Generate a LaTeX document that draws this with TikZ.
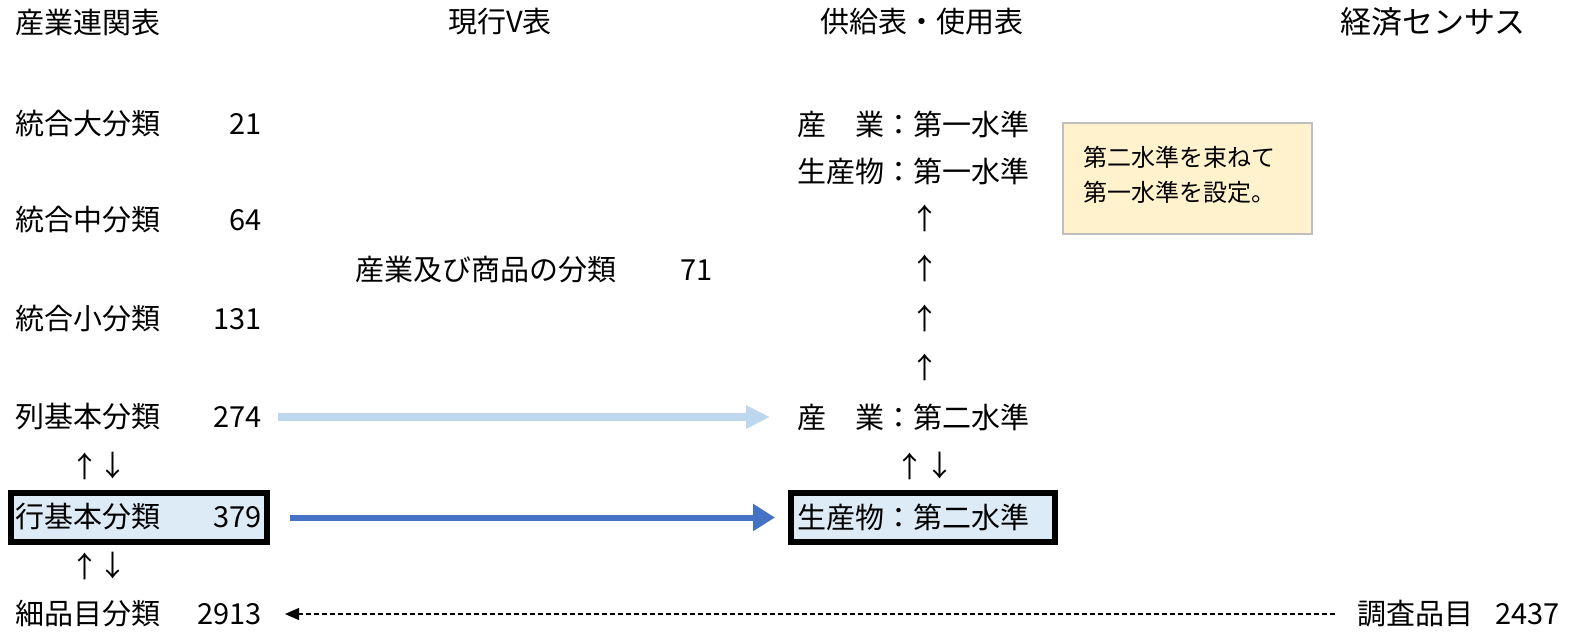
\documentclass[tikz,border=0pt]{standalone}
\usepackage{fontspec}
\setmainfont{Noto Sans CJK JP}
\usetikzlibrary{arrows.meta}
\definecolor{boxblue}{HTML}{DDEBF7}
\definecolor{lightarrow}{HTML}{BDD7EE}
\definecolor{darkarrow}{HTML}{4472C4}
\definecolor{notefill}{HTML}{FFF2CC}
\definecolor{notedraw}{HTML}{BFBFBF}
\begin{document}
\begin{tikzpicture}[x=0.5pt,y=-0.5pt,
  every node/.style={inner sep=0pt, font=\fontsize{14.5}{17}\selectfont},
  lbl/.style={anchor=west},
  num/.style={anchor=east},
  hdr/.style={anchor=west},
  arr/.style={anchor=center},
  thickbox/.style={draw=black, line width=3pt, fill=boxblue, minimum height=24.5pt},
  note/.style={draw=notedraw, line width=0.8pt, fill=notefill, minimum width=124.5pt, minimum height=55.5pt, text width=104.5pt, inner xsep=10pt, align=left, font=\fontsize{12}{16}\selectfont}
]
\useasboundingbox (0,0) rectangle (1573,638);

% headers
\node[hdr] (h1) at (15,22) {産業連関表};
\node[arr] (h2) at (500,22) {現行V表};
\node[hdr] (h3) at (820,22) {供給表・使用表};
\node[hdr, font=\fontsize{15.5}{17}\selectfont] (h4) at (1340,22) {経済センサス};

% boxes
\node[thickbox, minimum width=128pt] (b1) at (139,517.5) {};
\node[thickbox, minimum width=132pt] (b2) at (923,517.5) {};

% left column
\node[lbl] (l1) at (15,124) {統合大分類};
\node[num] (n1) at (262,124) {21};
\node[lbl] (l2) at (15,220) {統合中分類};
\node[num] (n2) at (262,220) {64};
\node[lbl] (l3) at (15,319) {統合小分類};
\node[num] (n3) at (262,319) {131};
\node[lbl] (l4) at (15,417) {列基本分類};
\node[num] (n4) at (262,417) {274};
\node[arr] (u1) at (85,466) {↑};
\node[arr] (d1) at (113,466) {↓};
\node[lbl] (l5) at (15,517) {行基本分類};
\node[num] (n5) at (262,517) {379};
\node[arr] (u2) at (85,566) {↑};
\node[arr] (d2) at (113,566) {↓};
\node[lbl] (l6) at (15,614) {細品目分類};
\node[num] (n6) at (262,614) {2913};

% middle
\node[lbl] (m1) at (355,270) {産業及び商品の分類};
\node[num] (m2) at (713,270) {71};

% right column
\node[lbl] (r1) at (797,124) {産　業：第一水準};
\node[lbl] (r2) at (797,171) {生産物：第一水準};
\node[arr] (ra) at (925,218) {↑};
\node[arr] (rb) at (925,268) {↑};
\node[arr] (rc) at (925,318) {↑};
\node[arr] (rd) at (925,367) {↑};
\node[lbl] (r3) at (797,417) {産　業：第二水準};
\node[arr] (ru) at (910,466) {↑};
\node[arr] (rdn) at (940,466) {↓};
\node[lbl] (r4) at (797,517) {生産物：第二水準};

% note
\node[note] (nt) at (1187.5,178.5) {第二水準を束ねて\\[1.5pt]第一水準を設定。\rule[-4.5pt]{0pt}{0pt}};

% census
\node[lbl] (c1) at (1357,614) {調査品目};
\node[num] (c2) at (1560,614) {2437};

% connectors
\draw[lightarrow, line width=4pt, -{Triangle[length=12pt,width=11pt]}, shorten <=8pt, shorten >=13.5pt]
  (n4.east |- r3.west) -- (r3.west);
\draw[darkarrow, line width=3pt, -{Triangle[length=11pt,width=13pt]}, shorten <=10pt, shorten >=6.5pt]
  (b1.east) -- (b2.west);
\draw[black, line width=0.6pt, dash pattern=on 2.5pt off 1.5pt, -{Triangle[length=7pt,width=6pt]}, shorten <=11pt, shorten >=11.5pt]
  (c1.west) -- (n6.east |- c1.west);
\end{tikzpicture}
\end{document}
